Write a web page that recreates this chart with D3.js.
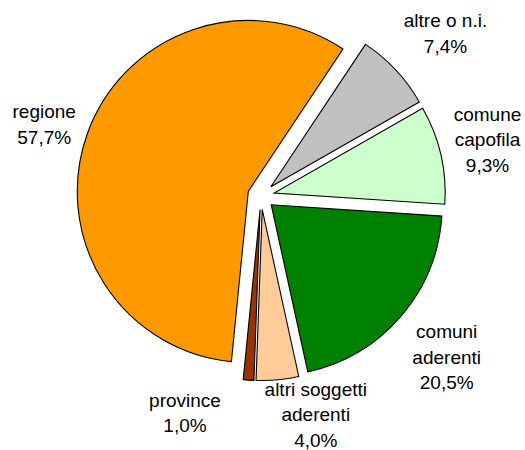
<!DOCTYPE html>
<html>
<head>
<meta charset="utf-8">
<script src="https://cdn.jsdelivr.net/npm/d3@7/dist/d3.min.js"></script>
<style>
  html, body { margin: 0; padding: 0; background: #fff; }
  svg { display: block; }
  text { font-family: "Liberation Sans", Arial, sans-serif; font-size: 19px; fill: #000; }
</style>
</head>
<body>
<svg id="chart" width="525" height="450"></svg>
<script>
// slices, clockwise from the first one after the top-right gap
var categories = [ 'altre o n.i.', 'comune capofila', 'comuni aderenti', 'altri soggetti aderenti', 'province', 'regione' ];
var values = [ 7.4, 9.3, 20.5, 4.0, 1.0, 57.7 ];
var labelLines = [
	[ 'altre o n.i.' ],
	[ 'comune', 'capofila' ],
	[ 'comuni', 'aderenti' ],
	[ 'altri soggetti', 'aderenti' ],
	[ 'province' ],
	[ 'regione' ]
];
var colors = [ '#c0c0c0', '#ccffcc', '#008000', '#ffcc99', '#993300', '#ff9900' ];

// layout
var cx = 261, cy = 196,
	radius = 171,
	explode = 13.5,
	startDeg = 33.6,
	lineStep = 25.5;

// label block centres, relative to the pie centre
var labelOffset = [ [ 184.5, -162.8 ], [ 226.5, -56.8 ], [ 185.7, 160.8 ], [ 54.8, 218.5 ], [ -76, 216.5 ], [ -216.8, -71.6 ] ];

var locale = d3.formatLocale( { decimal: ',', thousands: '.', grouping: [ 3 ], currency: [ '', '€' ] } );
var fmt = locale.format( '.1f' );

var svg = d3.select( '#chart' );
var g = svg.append( 'g' ).attr( 'transform', 'translate(' + cx + ',' + cy + ')' );

var rad = Math.PI / 180;
var pie = d3.pie()
	.sort( null )
	.value( function( d ) { return d; } )
	.startAngle( startDeg * rad )
	.endAngle( ( startDeg + 360 ) * rad );

var arc = d3.arc().innerRadius( 0 ).outerRadius( radius );

var arcs = pie( values );

g.selectAll( 'path.slice' )
	.data( arcs )
	.enter()
	.append( 'path' )
		.attr( 'class', 'slice' )
		.attr( 'd', arc )
		.attr( 'fill', function( d, i ) { return colors[ i ]; } )
		.attr( 'stroke', '#000' )
		.attr( 'stroke-width', 1.1 )
		.attr( 'stroke-linejoin', 'miter' )
		.attr( 'transform', function( d ) {
			var a = ( d.startAngle + d.endAngle ) / 2;
			return 'translate(' + ( Math.sin( a ) * explode ) + ',' + ( -Math.cos( a ) * explode ) + ')';
		} );

var labels = g.selectAll( 'text.label' )
	.data( arcs )
	.enter()
	.append( 'text' )
		.attr( 'class', 'label' )
		.attr( 'text-anchor', 'middle' );

labels.each( function( d, i ) {
	var lines = labelLines[ i ].concat( [ fmt( values[ i ] ) + '%' ] );
	var off = labelOffset[ i ];
	var y0 = off[ 1 ] - ( lines.length - 1 ) * lineStep / 2 + 6.8;
	d3.select( this ).selectAll( 'tspan' )
		.data( lines )
		.enter()
		.append( 'tspan' )
			.attr( 'x', off[ 0 ] )
			.attr( 'y', function( t, j ) { return y0 + j * lineStep; } )
			.text( function( t ) { return t; } );
} );
</script>
</body>
</html>
